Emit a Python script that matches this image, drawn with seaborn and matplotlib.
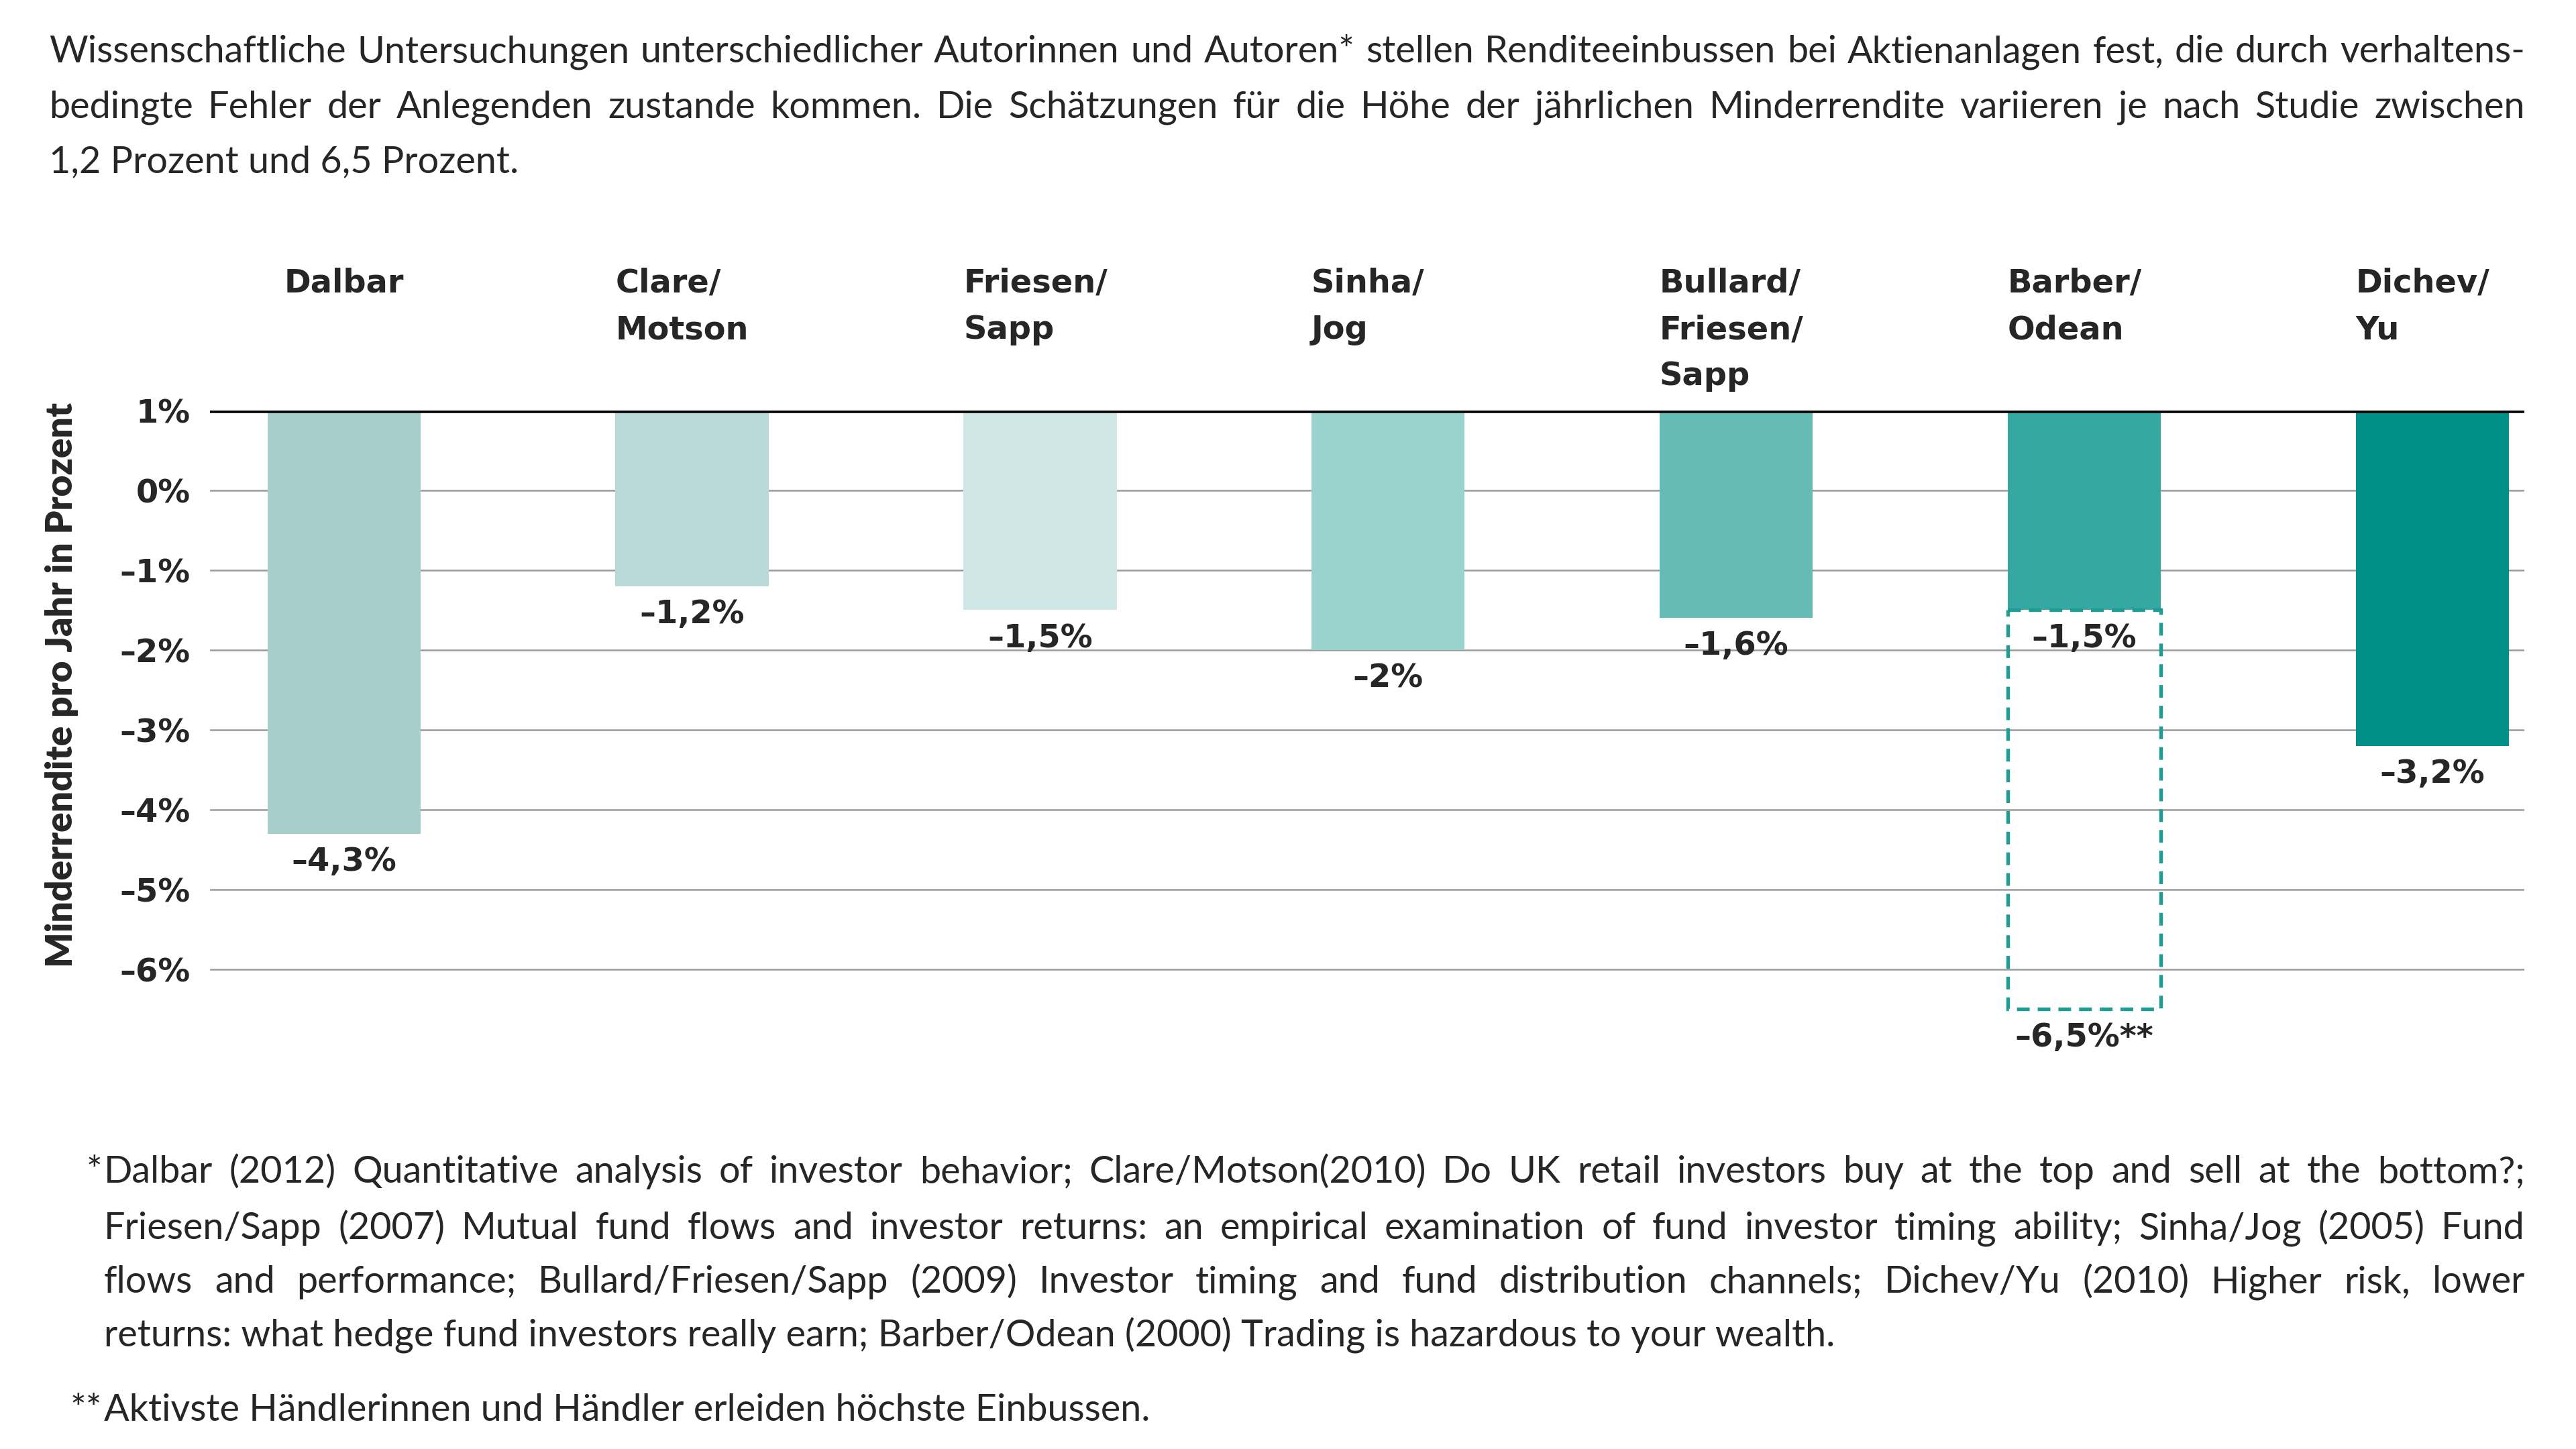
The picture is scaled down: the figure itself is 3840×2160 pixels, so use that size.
import matplotlib
matplotlib.use('Agg')
from matplotlib import pyplot as plt
from matplotlib import transforms
from matplotlib.patches import Rectangle
import seaborn as sns

sns.set_theme(style='white')
plt.rcParams['font.family'] = ['Lato', 'DejaVu Sans']

#################################################################################
# data

studies = ['Dalbar', 'Clare/\nMotson', 'Friesen/\nSapp', 'Sinha/\nJog',
           'Bullard/\nFriesen/\nSapp', 'Barber/\nOdean', 'Dichev/\nYu']
values = [-4.3, -1.2, -1.5, -2.0, -1.6, -1.5, -3.2]
bar_colors = ['#a8cecc', '#b9d9d8', '#cfe8e7', '#9ad3ce', '#65bcb7', '#34a8a1', '#009087']

# Barber/Odean: most active traders
extreme_study = 'Barber/\nOdean'
extreme_value = -6.5

yticks = [1, 0, -1, -2, -3, -4, -5, -6]

intro_lines = [
    'Wissenschaftliche Untersuchungen unterschiedlicher Autorinnen und Autoren* stellen Renditeeinbussen bei Aktienanlagen fest, die durch verhaltens-',
    'bedingte Fehler der Anlegenden zustande kommen. Die Schätzungen für die Höhe der jährlichen Minderrendite variieren je nach Studie zwischen',
    '1,2 Prozent und 6,5 Prozent.',
]
note_lines = [
    'Dalbar (2012) Quantitative analysis of investor behavior; Clare/Motson(2010) Do UK retail investors buy at the top and sell at the bottom?;',
    'Friesen/Sapp (2007) Mutual fund flows and investor returns: an empirical examination of fund investor timing ability; Sinha/Jog (2005) Fund',
    'flows and performance; Bullard/Friesen/Sapp (2009) Investor timing and fund distribution channels; Dichev/Yu (2010) Higher risk, lower',
    'returns: what hedge fund investors really earn; Barber/Odean (2000) Trading is hazardous to your wealth.',
]
note2 = 'Aktivste Händlerinnen und Händler erleiden höchste Einbussen.'

ylabel = 'Minderrendite pro Jahr in Prozent'


def pct(v):
    s = ('%.1f' % abs(v)).replace('.', ',')
    if s.endswith(',0'):
        s = s[:-2]
    return '\u2013' + s + '%' if v < 0 else s + '%'


#################################################################################
# figure

fig = plt.figure(figsize=(12.8, 7.2), dpi=300)
ax = fig.add_axes([0.0815, 0.276, 0.8985, 0.4407])

top = yticks[0]
sns.barplot(x=studies, y=values, hue=studies, palette=bar_colors, legend=False,
            width=0.44, saturation=1, ax=ax, zorder=2)

# bars hang down from the top line
bars = list(ax.patches)
for bar, v in zip(bars, values):
    bar.set_y(top)
    bar.set_height(v - top)
    bar.set_linewidth(0)

# dashed box for the most active traders
i_ex = studies.index(extreme_study)
b = bars[i_ex]
ax.add_patch(Rectangle((b.get_x(), values[i_ex]), b.get_width(),
                       extreme_value - values[i_ex], fill=False,
                       edgecolor='#1f9c94', linewidth=1.3,
                       linestyle=(0, (3.5, 2.2)), zorder=3, clip_on=False))

ax.set_xlim(-0.385, 6.265)
ax.set_ylim(-7, top)
ax.set_yticks(yticks)
ax.set_yticklabels([pct(t) if t < 0 else '%d%%' % t for t in yticks],
                   fontsize=11.5, fontweight='bold', family='DejaVu Sans')
ax.tick_params(axis='y', length=0, pad=7)
ax.tick_params(axis='x', bottom=False, labelbottom=False)
ax.set_xlabel('')
ax.set_ylabel('')
for s in ax.spines.values():
    s.set_visible(False)
for t in yticks[1:]:
    ax.axhline(t, color='#9a9a9a', linewidth=0.6, zorder=1)
ax.axhline(top, color='black', linewidth=1.8, zorder=4)

# value labels
for i, v in enumerate(values):
    ax.annotate(pct(v), (i, v), xytext=(0, -10), textcoords='offset points',
                ha='center', va='center', fontsize=11.5, fontweight='bold',
                family='DejaVu Sans', annotation_clip=False)
ax.annotate(pct(extreme_value) + '**', (i_ex, extreme_value), xytext=(0, -10),
            textcoords='offset points', ha='center', va='center', fontsize=11.5,
            fontweight='bold', family='DejaVu Sans', annotation_clip=False)

# study names above the bars
trans = transforms.blended_transform_factory(ax.transData, fig.transFigure)
for i, name in enumerate(studies):
    lines = name.split('\n')
    for j, line in enumerate(lines):
        y = 1 - (436 + j * 69) / 2160
        if len(lines) == 1:
            ax.text(i, y, line, transform=trans, ha='center', va='baseline',
                    fontsize=11.5, fontweight='bold', family='DejaVu Sans')
        else:
            ax.text(i - 0.22, y, line, transform=trans, ha='left', va='baseline',
                    fontsize=11.5, fontweight='bold', family='DejaVu Sans')

fig.text(0.024, 1 - 1021 / 2160, ylabel, rotation=90, ha='center', va='center',
         fontsize=13.2, fontweight='heavy')

#################################################################################
# justified text blocks

renderer = fig.canvas.get_renderer()
body_size = 13.4


def justified(lines, x0, x1, baselines, size):
    for k, (line, yb) in enumerate(zip(lines, baselines)):
        y = 1 - yb / 2160
        if k == len(lines) - 1:
            fig.text(x0, y, line, fontsize=size, va='baseline')
            continue
        words = line.split(' ')
        texts = [fig.text(0, y, w, fontsize=size, va='baseline') for w in words]
        widths = [t.get_window_extent(renderer).width / fig.bbox.width for t in texts]
        gap = (x1 - x0 - sum(widths)) / (len(words) - 1)
        x = x0
        for t, w in zip(texts, widths):
            t.set_x(x)
            x += w + gap


justified(intro_lines, 73 / 3840, 3764 / 3840, [93, 176, 257], body_size)
justified(note_lines, 155 / 3840, 3764 / 3840, [1763, 1847, 1927, 2008], body_size)
fig.text(152 / 3840, 1 - 1763 / 2160, '*', fontsize=body_size, va='baseline', ha='right')
fig.text(152 / 3840, 1 - 2118 / 2160, '**', fontsize=body_size, va='baseline', ha='right')
fig.text(155 / 3840, 1 - 2118 / 2160, note2, fontsize=body_size, va='baseline')

plt.savefig('out.png', dpi=300)
